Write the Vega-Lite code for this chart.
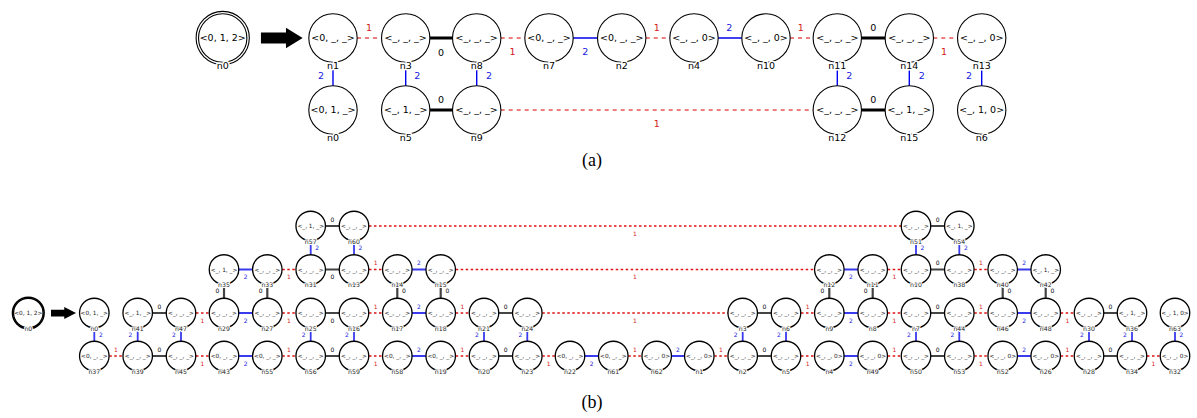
{
  "$schema": "https://vega.github.io/schema/vega-lite/v6.json",
  "width": 1197,
  "height": 418,
  "autosize": {"type": "fit", "contains": "padding"},
  "padding": 0,
  "background": "white",
  "config": {"view": {"stroke": null}},
  "datasets": {
    "nodes": [
      {"p":"a","n":"n0","t":"<0, 1, 2>","x":222.7,"y":38,"s":1},
      {"p":"a","n":"n1","t":"<0, _, _>","x":333,"y":38,"s":0},
      {"p":"a","n":"n3","t":"<_, _, _>","x":405.7,"y":38,"s":0},
      {"p":"a","n":"n8","t":"<_, _, _>","x":476.7,"y":38,"s":0},
      {"p":"a","n":"n7","t":"<0, _, _>","x":549,"y":38,"s":0},
      {"p":"a","n":"n2","t":"<0, _, _>","x":621.7,"y":38,"s":0},
      {"p":"a","n":"n4","t":"<_, _, 0>","x":694,"y":38,"s":0},
      {"p":"a","n":"n10","t":"<_, _, 0>","x":766,"y":38,"s":0},
      {"p":"a","n":"n11","t":"<_, _, _>","x":837.3,"y":38,"s":0},
      {"p":"a","n":"n14","t":"<_, _, _>","x":909.3,"y":38,"s":0},
      {"p":"a","n":"n13","t":"<_, _, 0>","x":981.7,"y":38,"s":0},
      {"p":"a","n":"n0","t":"<0, 1, _>","x":333,"y":110,"s":0},
      {"p":"a","n":"n5","t":"<_, 1, _>","x":405.7,"y":110,"s":0},
      {"p":"a","n":"n9","t":"<_, _, _>","x":476.7,"y":110,"s":0},
      {"p":"a","n":"n12","t":"<_, _, _>","x":837.3,"y":110,"s":0},
      {"p":"a","n":"n15","t":"<_, 1, _>","x":909.3,"y":110,"s":0},
      {"p":"a","n":"n6","t":"<_, 1, 0>","x":981.7,"y":110,"s":0},

      {"p":"b","n":"n0","t":"<0, 1, 2>","x":28.3,"y":313,"s":1},
      {"p":"b","n":"n57","t":"<_, 1, _>","x":310.7,"y":226,"s":0},
      {"p":"b","n":"n60","t":"<_, _, _>","x":354,"y":226,"s":0},
      {"p":"b","n":"n51","t":"<_, _, _>","x":916,"y":226,"s":0},
      {"p":"b","n":"n54","t":"<_, 1, _>","x":959.3,"y":226,"s":0},

      {"p":"b","n":"n35","t":"<_, 1, _>","x":224,"y":269.5,"s":0},
      {"p":"b","n":"n33","t":"<_, _, _>","x":267.3,"y":269.5,"s":0},
      {"p":"b","n":"n31","t":"<_, _, _>","x":310.7,"y":269.5,"s":0},
      {"p":"b","n":"n13","t":"<_, _, _>","x":354,"y":269.5,"s":0},
      {"p":"b","n":"n14","t":"<_, _, _>","x":397.3,"y":269.5,"s":0},
      {"p":"b","n":"n15","t":"<_, _, _>","x":440.7,"y":269.5,"s":0},
      {"p":"b","n":"n12","t":"<_, _, _>","x":829.3,"y":269.5,"s":0},
      {"p":"b","n":"n11","t":"<_, _, _>","x":872.7,"y":269.5,"s":0},
      {"p":"b","n":"n10","t":"<_, _, _>","x":916,"y":269.5,"s":0},
      {"p":"b","n":"n38","t":"<_, _, _>","x":959.3,"y":269.5,"s":0},
      {"p":"b","n":"n40","t":"<_, _, _>","x":1002.7,"y":269.5,"s":0},
      {"p":"b","n":"n42","t":"<_, 1, _>","x":1045.7,"y":269.5,"s":0},

      {"p":"b","n":"n0","t":"<0, 1, _>","x":94.3,"y":313,"s":0},
      {"p":"b","n":"n41","t":"<_, 1, _>","x":137.7,"y":313,"s":0},
      {"p":"b","n":"n47","t":"<_, _, _>","x":181,"y":313,"s":0},
      {"p":"b","n":"n29","t":"<_, _, _>","x":224,"y":313,"s":0},
      {"p":"b","n":"n27","t":"<_, _, _>","x":267.3,"y":313,"s":0},
      {"p":"b","n":"n25","t":"<_, _, _>","x":310.7,"y":313,"s":0},
      {"p":"b","n":"n16","t":"<_, _, _>","x":354,"y":313,"s":0},
      {"p":"b","n":"n17","t":"<_, _, _>","x":397.3,"y":313,"s":0},
      {"p":"b","n":"n18","t":"<_, _, _>","x":440.7,"y":313,"s":0},
      {"p":"b","n":"n21","t":"<_, _, _>","x":484,"y":313,"s":0},
      {"p":"b","n":"n24","t":"<_, _, _>","x":527.3,"y":313,"s":0},
      {"p":"b","n":"n3","t":"<_, _, _>","x":742.7,"y":313,"s":0},
      {"p":"b","n":"n6","t":"<_, _, _>","x":786,"y":313,"s":0},
      {"p":"b","n":"n9","t":"<_, _, _>","x":829.3,"y":313,"s":0},
      {"p":"b","n":"n8","t":"<_, _, _>","x":872.7,"y":313,"s":0},
      {"p":"b","n":"n7","t":"<_, _, _>","x":916,"y":313,"s":0},
      {"p":"b","n":"n44","t":"<_, _, _>","x":959.3,"y":313,"s":0},
      {"p":"b","n":"n46","t":"<_, _, _>","x":1002.7,"y":313,"s":0},
      {"p":"b","n":"n48","t":"<_, _, _>","x":1045.7,"y":313,"s":0},
      {"p":"b","n":"n30","t":"<_, _, _>","x":1089,"y":313,"s":0},
      {"p":"b","n":"n36","t":"<_, 1, _>","x":1132,"y":313,"s":0},
      {"p":"b","n":"n63","t":"<_, 1, 0>","x":1175,"y":313,"s":0},

      {"p":"b","n":"n37","t":"<0, _, _>","x":94.3,"y":356,"s":0},
      {"p":"b","n":"n39","t":"<_, _, _>","x":137.7,"y":356,"s":0},
      {"p":"b","n":"n45","t":"<_, _, _>","x":181,"y":356,"s":0},
      {"p":"b","n":"n43","t":"<0, _, _>","x":224,"y":356,"s":0},
      {"p":"b","n":"n55","t":"<0, _, _>","x":267.3,"y":356,"s":0},
      {"p":"b","n":"n56","t":"<_, _, _>","x":310.7,"y":356,"s":0},
      {"p":"b","n":"n59","t":"<_, _, _>","x":354,"y":356,"s":0},
      {"p":"b","n":"n58","t":"<0, _, _>","x":397.3,"y":356,"s":0},
      {"p":"b","n":"n19","t":"<0, _, _>","x":440.7,"y":356,"s":0},
      {"p":"b","n":"n20","t":"<_, _, _>","x":484,"y":356,"s":0},
      {"p":"b","n":"n23","t":"<_, _, _>","x":527.3,"y":356,"s":0},
      {"p":"b","n":"n22","t":"<0, _, _>","x":570,"y":356,"s":0},
      {"p":"b","n":"n61","t":"<0, _, _>","x":613.3,"y":356,"s":0},
      {"p":"b","n":"n62","t":"<_, _, 0>","x":656.7,"y":356,"s":0},
      {"p":"b","n":"n1","t":"<_, _, 0>","x":699.3,"y":356,"s":0},
      {"p":"b","n":"n2","t":"<_, _, _>","x":742.7,"y":356,"s":0},
      {"p":"b","n":"n5","t":"<_, _, _>","x":786,"y":356,"s":0},
      {"p":"b","n":"n4","t":"<_, _, 0>","x":829.3,"y":356,"s":0},
      {"p":"b","n":"n49","t":"<_, _, 0>","x":872.7,"y":356,"s":0},
      {"p":"b","n":"n50","t":"<_, _, _>","x":916,"y":356,"s":0},
      {"p":"b","n":"n53","t":"<_, _, _>","x":959.3,"y":356,"s":0},
      {"p":"b","n":"n52","t":"<_, _, 0>","x":1002.7,"y":356,"s":0},
      {"p":"b","n":"n26","t":"<_, _, 0>","x":1045.7,"y":356,"s":0},
      {"p":"b","n":"n28","t":"<_, _, _>","x":1089,"y":356,"s":0},
      {"p":"b","n":"n34","t":"<_, _, _>","x":1132,"y":356,"s":0},
      {"p":"b","n":"n32","t":"<_, _, 0>","x":1175,"y":356,"s":0}
    ],
    "edges": [
      {"p":"a","k":"1","x":333,"y":38,"x2":405.7,"y2":38,"lx":369,"ly":28.3},
      {"p":"a","k":"0","x":405.7,"y":38,"x2":476.7,"y2":38,"lx":441,"ly":52.5},
      {"p":"a","k":"1","x":476.7,"y":38,"x2":549,"y2":38,"lx":512.5,"ly":52},
      {"p":"a","k":"2","x":549,"y":38,"x2":621.7,"y2":38,"lx":585.3,"ly":52},
      {"p":"a","k":"1","x":621.7,"y":38,"x2":694,"y2":38,"lx":656.7,"ly":28.3},
      {"p":"a","k":"2","x":694,"y":38,"x2":766,"y2":38,"lx":729.3,"ly":28.3},
      {"p":"a","k":"1","x":766,"y":38,"x2":837.3,"y2":38,"lx":800.7,"ly":28.3},
      {"p":"a","k":"0","x":837.3,"y":38,"x2":909.3,"y2":38,"lx":873.3,"ly":28.3},
      {"p":"a","k":"1","x":909.3,"y":38,"x2":981.7,"y2":38,"lx":944,"ly":52},
      {"p":"a","k":"2","x":333,"y":38,"x2":333,"y2":110,"lx":321,"ly":76},
      {"p":"a","k":"2","x":405.7,"y":38,"x2":405.7,"y2":110,"lx":417.3,"ly":76},
      {"p":"a","k":"2","x":476.7,"y":38,"x2":476.7,"y2":110,"lx":489,"ly":76},
      {"p":"a","k":"0","x":405.7,"y":110,"x2":476.7,"y2":110,"lx":441,"ly":100},
      {"p":"a","k":"1","x":476.7,"y":110,"x2":837.3,"y2":110,"lx":656.7,"ly":124.3},
      {"p":"a","k":"2","x":837.3,"y":38,"x2":837.3,"y2":110,"lx":849.3,"ly":76},
      {"p":"a","k":"2","x":909.3,"y":38,"x2":909.3,"y2":110,"lx":921.7,"ly":76},
      {"p":"a","k":"2","x":981.7,"y":38,"x2":981.7,"y2":110,"lx":969,"ly":76},
      {"p":"a","k":"0","x":837.3,"y":110,"x2":909.3,"y2":110,"lx":873.3,"ly":100},

      {"p":"b","k":"0","x":137.7,"y":313,"x2":181,"y2":313,"lx":159.4,"ly":306.5},
      {"p":"b","k":"1","x":181,"y":313,"x2":224,"y2":313,"lx":202.5,"ly":320.7},
      {"p":"b","k":"2","x":224,"y":313,"x2":267.3,"y2":313,"lx":245.7,"ly":320.7},
      {"p":"b","k":"1","x":267.3,"y":313,"x2":310.7,"y2":313,"lx":289,"ly":320.7},
      {"p":"b","k":"0","x":310.7,"y":313,"x2":354,"y2":313,"lx":332.4,"ly":320.7},
      {"p":"b","k":"1","x":354,"y":313,"x2":397.3,"y2":313,"lx":375.7,"ly":306.5},
      {"p":"b","k":"2","x":397.3,"y":313,"x2":440.7,"y2":313,"lx":419,"ly":306.5},
      {"p":"b","k":"1","x":440.7,"y":313,"x2":484,"y2":313,"lx":462.4,"ly":306.5},
      {"p":"b","k":"0","x":484,"y":313,"x2":527.3,"y2":313,"lx":505.7,"ly":306.5},
      {"p":"b","k":"1","x":527.3,"y":313,"x2":742.7,"y2":313,"lx":635,"ly":320.7},
      {"p":"b","k":"0","x":742.7,"y":313,"x2":786,"y2":313,"lx":764.4,"ly":306.5},
      {"p":"b","k":"1","x":786,"y":313,"x2":829.3,"y2":313,"lx":807.7,"ly":306.5},
      {"p":"b","k":"2","x":829.3,"y":313,"x2":872.7,"y2":313,"lx":851,"ly":320.7},
      {"p":"b","k":"1","x":872.7,"y":313,"x2":916,"y2":313,"lx":894.4,"ly":320.7},
      {"p":"b","k":"0","x":916,"y":313,"x2":959.3,"y2":313,"lx":937.7,"ly":306.5},
      {"p":"b","k":"1","x":959.3,"y":313,"x2":1002.7,"y2":313,"lx":981,"ly":306.5},
      {"p":"b","k":"2","x":1002.7,"y":313,"x2":1045.7,"y2":313,"lx":1024.2,"ly":320.7},
      {"p":"b","k":"1","x":1045.7,"y":313,"x2":1089,"y2":313,"lx":1067.4,"ly":320.7},
      {"p":"b","k":"0","x":1089,"y":313,"x2":1132,"y2":313,"lx":1110.5,"ly":306.5},

      {"p":"b","k":"1","x":94.3,"y":356,"x2":137.7,"y2":356,"lx":116,"ly":349.5},
      {"p":"b","k":"0","x":137.7,"y":356,"x2":181,"y2":356,"lx":159.4,"ly":349.5},
      {"p":"b","k":"1","x":181,"y":356,"x2":224,"y2":356,"lx":202.5,"ly":363.7},
      {"p":"b","k":"2","x":224,"y":356,"x2":267.3,"y2":356,"lx":245.7,"ly":363.7},
      {"p":"b","k":"1","x":267.3,"y":356,"x2":310.7,"y2":356,"lx":289,"ly":349.5},
      {"p":"b","k":"0","x":310.7,"y":356,"x2":354,"y2":356,"lx":332.4,"ly":349.5},
      {"p":"b","k":"1","x":354,"y":356,"x2":397.3,"y2":356,"lx":375.7,"ly":363.7},
      {"p":"b","k":"2","x":397.3,"y":356,"x2":440.7,"y2":356,"lx":419,"ly":349.5},
      {"p":"b","k":"1","x":440.7,"y":356,"x2":484,"y2":356,"lx":462.4,"ly":349.5},
      {"p":"b","k":"0","x":484,"y":356,"x2":527.3,"y2":356,"lx":505.7,"ly":349.5},
      {"p":"b","k":"1","x":527.3,"y":356,"x2":570,"y2":356,"lx":548.7,"ly":363.7},
      {"p":"b","k":"2","x":570,"y":356,"x2":613.3,"y2":356,"lx":591.7,"ly":363.7},
      {"p":"b","k":"1","x":613.3,"y":356,"x2":656.7,"y2":356,"lx":635,"ly":349.5},
      {"p":"b","k":"2","x":656.7,"y":356,"x2":699.3,"y2":356,"lx":678,"ly":349.5},
      {"p":"b","k":"1","x":699.3,"y":356,"x2":742.7,"y2":356,"lx":721,"ly":349.5},
      {"p":"b","k":"0","x":742.7,"y":356,"x2":786,"y2":356,"lx":764.4,"ly":349.5},
      {"p":"b","k":"1","x":786,"y":356,"x2":829.3,"y2":356,"lx":807.7,"ly":363.7},
      {"p":"b","k":"2","x":829.3,"y":356,"x2":872.7,"y2":356,"lx":851,"ly":363.7},
      {"p":"b","k":"1","x":872.7,"y":356,"x2":916,"y2":356,"lx":894.4,"ly":349.5},
      {"p":"b","k":"0","x":916,"y":356,"x2":959.3,"y2":356,"lx":937.7,"ly":349.5},
      {"p":"b","k":"1","x":959.3,"y":356,"x2":1002.7,"y2":356,"lx":981,"ly":363.7},
      {"p":"b","k":"2","x":1002.7,"y":356,"x2":1045.7,"y2":356,"lx":1024.2,"ly":349.5},
      {"p":"b","k":"1","x":1045.7,"y":356,"x2":1089,"y2":356,"lx":1067.4,"ly":349.5},
      {"p":"b","k":"0","x":1089,"y":356,"x2":1132,"y2":356,"lx":1110.5,"ly":349.5},
      {"p":"b","k":"1","x":1132,"y":356,"x2":1175,"y2":356,"lx":1153.5,"ly":363.7},

      {"p":"b","k":"2","x":224,"y":269.5,"x2":267.3,"y2":269.5,"lx":245.7,"ly":277.2},
      {"p":"b","k":"1","x":267.3,"y":269.5,"x2":310.7,"y2":269.5,"lx":289,"ly":277.2},
      {"p":"b","k":"0","x":310.7,"y":269.5,"x2":354,"y2":269.5,"lx":332.4,"ly":277.2},
      {"p":"b","k":"1","x":354,"y":269.5,"x2":397.3,"y2":269.5,"lx":375.7,"ly":263},
      {"p":"b","k":"2","x":397.3,"y":269.5,"x2":440.7,"y2":269.5,"lx":419,"ly":263},
      {"p":"b","k":"1","x":440.7,"y":269.5,"x2":829.3,"y2":269.5,"lx":635,"ly":277.2},
      {"p":"b","k":"2","x":829.3,"y":269.5,"x2":872.7,"y2":269.5,"lx":851,"ly":277.2},
      {"p":"b","k":"1","x":872.7,"y":269.5,"x2":916,"y2":269.5,"lx":894.4,"ly":277.2},
      {"p":"b","k":"0","x":916,"y":269.5,"x2":959.3,"y2":269.5,"lx":937.7,"ly":263},
      {"p":"b","k":"1","x":959.3,"y":269.5,"x2":1002.7,"y2":269.5,"lx":981,"ly":263},
      {"p":"b","k":"2","x":1002.7,"y":269.5,"x2":1045.7,"y2":269.5,"lx":1024.2,"ly":263},

      {"p":"b","k":"0","x":310.7,"y":226,"x2":354,"y2":226,"lx":332.4,"ly":219.5},
      {"p":"b","k":"1","x":354,"y":226,"x2":916,"y2":226,"lx":635,"ly":233.7},
      {"p":"b","k":"0","x":916,"y":226,"x2":959.3,"y2":226,"lx":937.7,"ly":219.5},

      {"p":"b","k":"2","x":94.3,"y":313,"x2":94.3,"y2":356,"lx":101,"ly":334.5},
      {"p":"b","k":"2","x":137.7,"y":313,"x2":137.7,"y2":356,"lx":130.5,"ly":334.5},
      {"p":"b","k":"2","x":181,"y":313,"x2":181,"y2":356,"lx":174,"ly":334.5},
      {"p":"b","k":"2","x":310.7,"y":313,"x2":310.7,"y2":356,"lx":303.7,"ly":334.5},
      {"p":"b","k":"2","x":354,"y":313,"x2":354,"y2":356,"lx":347,"ly":334.5},
      {"p":"b","k":"2","x":484,"y":313,"x2":484,"y2":356,"lx":477,"ly":334.5},
      {"p":"b","k":"2","x":527.3,"y":313,"x2":527.3,"y2":356,"lx":520.3,"ly":334.5},
      {"p":"b","k":"2","x":742.7,"y":313,"x2":742.7,"y2":356,"lx":735.7,"ly":334.5},
      {"p":"b","k":"2","x":786,"y":313,"x2":786,"y2":356,"lx":779,"ly":334.5},
      {"p":"b","k":"2","x":916,"y":313,"x2":916,"y2":356,"lx":909,"ly":334.5},
      {"p":"b","k":"2","x":959.3,"y":313,"x2":959.3,"y2":356,"lx":952.3,"ly":334.5},
      {"p":"b","k":"2","x":1089,"y":313,"x2":1089,"y2":356,"lx":1082,"ly":334.5},
      {"p":"b","k":"2","x":1132,"y":313,"x2":1132,"y2":356,"lx":1125,"ly":334.5},
      {"p":"b","k":"2","x":1175,"y":313,"x2":1175,"y2":356,"lx":1181.5,"ly":334.5},

      {"p":"b","k":"0","x":224,"y":269.5,"x2":224,"y2":313,"lx":217.3,"ly":291},
      {"p":"b","k":"0","x":267.3,"y":269.5,"x2":267.3,"y2":313,"lx":260.6,"ly":291},
      {"p":"b","k":"0","x":397.3,"y":269.5,"x2":397.3,"y2":313,"lx":404,"ly":291},
      {"p":"b","k":"0","x":440.7,"y":269.5,"x2":440.7,"y2":313,"lx":447.3,"ly":291},
      {"p":"b","k":"0","x":829.3,"y":269.5,"x2":829.3,"y2":313,"lx":822.3,"ly":291},
      {"p":"b","k":"0","x":872.7,"y":269.5,"x2":872.7,"y2":313,"lx":865.7,"ly":291},
      {"p":"b","k":"0","x":1002.7,"y":269.5,"x2":1002.7,"y2":313,"lx":1009.3,"ly":291},
      {"p":"b","k":"0","x":1045.7,"y":269.5,"x2":1045.7,"y2":313,"lx":1052.5,"ly":291},

      {"p":"b","k":"2","x":310.7,"y":226,"x2":310.7,"y2":269.5,"lx":317.2,"ly":247.8},
      {"p":"b","k":"2","x":354,"y":226,"x2":354,"y2":269.5,"lx":360.5,"ly":247.8},
      {"p":"b","k":"2","x":916,"y":226,"x2":916,"y2":269.5,"lx":922.5,"ly":247.8},
      {"p":"b","k":"2","x":959.3,"y":226,"x2":959.3,"y2":269.5,"lx":965.8,"ly":247.8}
    ],
    "arrows": [
      {"p":"a","x":281.8,"y":38},
      {"p":"b","x":63.5,"y":313}
    ],
    "captions": [
      {"t":"(a)","x":592,"y":161},
      {"t":"(b)","x":592,"y":403}
    ]
  },
  "encoding": {
    "x": {"field":"x","type":"quantitative","scale":{"domain":[0,1197],"nice":false,"zero":false},"axis":null},
    "y": {"field":"y","type":"quantitative","scale":{"domain":[0,418],"nice":false,"zero":false,"reverse":true},"axis":null}
  },
  "layer": [
    {"data":{"name":"edges"},"transform":[{"filter":"datum.p=='a' && datum.k=='0'"}],
     "mark":{"type":"rule","color":"black","strokeWidth":3},
     "encoding":{"x2":{"field":"x2"},"y2":{"field":"y2"}}},
    {"data":{"name":"edges"},"transform":[{"filter":"datum.p=='a' && datum.k=='1'"}],
     "mark":{"type":"rule","color":"#d40000","strokeWidth":1.2,"strokeDash":[4,4]},
     "encoding":{"x2":{"field":"x2"},"y2":{"field":"y2"}}},
    {"data":{"name":"edges"},"transform":[{"filter":"datum.p=='a' && datum.k=='2'"}],
     "mark":{"type":"rule","color":"#0000ee","strokeWidth":1.4},
     "encoding":{"x2":{"field":"x2"},"y2":{"field":"y2"}}},
    {"data":{"name":"edges"},"transform":[{"filter":"datum.p=='b' && datum.k=='0'"}],
     "mark":{"type":"rule","color":"#444444","strokeWidth":2.2},
     "encoding":{"x2":{"field":"x2"},"y2":{"field":"y2"}}},
    {"data":{"name":"edges"},"transform":[{"filter":"datum.p=='b' && datum.k=='1'"}],
     "mark":{"type":"rule","color":"#e01010","strokeWidth":1.4,"strokeDash":[2.5,2.5]},
     "encoding":{"x2":{"field":"x2"},"y2":{"field":"y2"}}},
    {"data":{"name":"edges"},"transform":[{"filter":"datum.p=='b' && datum.k=='2'"}],
     "mark":{"type":"rule","color":"#3a3aee","strokeWidth":1.8},
     "encoding":{"x2":{"field":"x2"},"y2":{"field":"y2"}}},

    {"data":{"name":"nodes"},"transform":[{"filter":"datum.p=='a' && datum.s==1"}],
     "mark":{"type":"point","shape":"circle","size":2830,"filled":true,"fill":"white","stroke":"black","strokeWidth":1.1,"opacity":1}},
    {"data":{"name":"nodes"},"transform":[{"filter":"datum.p=='b' && datum.s==1"}],
     "mark":{"type":"point","shape":"circle","size":1000,"filled":true,"fill":"white","stroke":"black","strokeWidth":1.6,"opacity":1}},
    {"data":{"name":"nodes"},"transform":[{"filter":"datum.p=='a'"}],
     "mark":{"type":"point","shape":"circle","size":2340,"filled":true,"fill":"white","stroke":"black","strokeWidth":1.1,"opacity":1}},
    {"data":{"name":"nodes"},"transform":[{"filter":"datum.p=='b'"}],
     "mark":{"type":"point","shape":"circle","size":870,"filled":true,"fill":"white","stroke":"black","strokeWidth":1.3,"opacity":1}},

    {"data":{"name":"nodes"},"transform":[{"filter":"datum.p=='a'"}],
     "mark":{"type":"text","font":"DejaVu Sans","fontSize":9.5,"color":"black","align":"center","baseline":"middle"},
     "encoding":{"text":{"field":"t"}}},
    {"data":{"name":"nodes"},"transform":[{"filter":"datum.p=='b'"}],
     "mark":{"type":"text","font":"DejaVu Sans","fontSize":5.8,"color":"#222222","align":"center","baseline":"middle"},
     "encoding":{"text":{"field":"t"}}},

    {"data":{"name":"nodes"},"transform":[{"filter":"datum.p=='a'"}],
     "mark":{"type":"text","font":"DejaVu Sans","fontSize":9.5,"fill":"white","stroke":"white","strokeWidth":3,"strokeJoin":"round","align":"center","baseline":"middle","dy":28},
     "encoding":{"text":{"field":"n"}}},
    {"data":{"name":"nodes"},"transform":[{"filter":"datum.p=='a'"}],
     "mark":{"type":"text","font":"DejaVu Sans","fontSize":9.5,"color":"black","align":"center","baseline":"middle","dy":28},
     "encoding":{"text":{"field":"n"}}},
    {"data":{"name":"nodes"},"transform":[{"filter":"datum.p=='b'"}],
     "mark":{"type":"text","font":"DejaVu Sans","fontSize":6.2,"fill":"white","stroke":"white","strokeWidth":2,"strokeJoin":"round","align":"center","baseline":"middle","dy":15.5},
     "encoding":{"text":{"field":"n"}}},
    {"data":{"name":"nodes"},"transform":[{"filter":"datum.p=='b'"}],
     "mark":{"type":"text","font":"DejaVu Sans","fontSize":6.2,"color":"#222222","align":"center","baseline":"middle","dy":15.5},
     "encoding":{"text":{"field":"n"}}},

    {"data":{"name":"edges"},"transform":[{"filter":"datum.p=='a'"}],
     "mark":{"type":"text","font":"DejaVu Sans","fontSize":9.5,"align":"center","baseline":"middle"},
     "encoding":{
       "x":{"field":"lx","type":"quantitative","scale":{"domain":[0,1197],"nice":false,"zero":false},"axis":null},
       "y":{"field":"ly","type":"quantitative","scale":{"domain":[0,418],"nice":false,"zero":false,"reverse":true},"axis":null},
       "text":{"field":"k"},
       "color":{"field":"k","type":"nominal","scale":{"domain":["0","1","2"],"range":["#000000","#d42020","#2020e0"]},"legend":null}}},
    {"data":{"name":"edges"},"transform":[{"filter":"datum.p=='b'"}],
     "mark":{"type":"text","font":"DejaVu Sans","fontSize":6,"align":"center","baseline":"middle"},
     "encoding":{
       "x":{"field":"lx","type":"quantitative","scale":{"domain":[0,1197],"nice":false,"zero":false},"axis":null},
       "y":{"field":"ly","type":"quantitative","scale":{"domain":[0,418],"nice":false,"zero":false,"reverse":true},"axis":null},
       "text":{"field":"k"},
       "color":{"field":"k","type":"nominal","scale":{"domain":["0","1","2"],"range":["#000000","#d42020","#2020e0"]},"legend":null}}},

    {"data":{"name":"arrows"},"transform":[{"filter":"datum.p=='a'"}],
     "mark":{"type":"point","shape":"M -1 -0.264 L 0.2 -0.264 L 0.2 -0.496 L 1 0 L 0.2 0.496 L 0.2 0.264 L -1 0.264 Z","size":1739,"filled":true,"color":"black","opacity":1}},
    {"data":{"name":"arrows"},"transform":[{"filter":"datum.p=='b'"}],
     "mark":{"type":"point","shape":"M -1 -0.27 L 0.06 -0.27 L 0.06 -0.48 L 1 0 L 0.06 0.48 L 0.06 0.27 L -1 0.27 Z","size":625,"filled":true,"color":"black","opacity":1}},

    {"data":{"name":"captions"},
     "mark":{"type":"text","font":"Liberation Serif","fontSize":18,"color":"black","align":"center","baseline":"middle"},
     "encoding":{"text":{"field":"t"}}}
  ]
}
